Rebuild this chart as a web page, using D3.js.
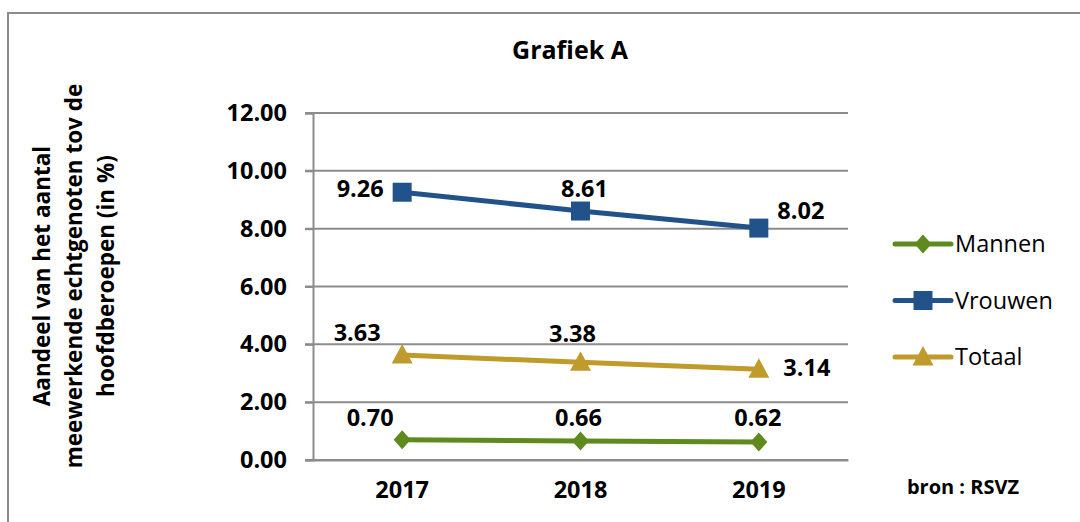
<!DOCTYPE html>
<html>
<head>
<meta charset="utf-8">
<script src="https://cdn.jsdelivr.net/npm/d3@7"></script>
<style>
  html, body { margin: 0; padding: 0; background: #fff; }
  svg { display: block; }
  text { font-family: "Open Sans", "Noto Sans", sans-serif; fill: #000; }
</style>
</head>
<body>
<svg id="chart" width="1080" height="522"></svg>
<script>
// ---- Data ----
const years = ["2017", "2018", "2019"];
const mannen = [0.70, 0.66, 0.62];
const vrouwen = [9.26, 8.61, 8.02];
const totaal = [3.63, 3.38, 3.14];
const yTicks = [0, 2, 4, 6, 8, 10, 12];
const seriesNames = ["Mannen", "Vrouwen", "Totaal"];
const titleText = "Grafiek A";
const yTitleLines = ["Aandeel van het aantal", "meewerkende echtgenoten tov de", "hoofdberoepen (in %)"];
const sourceText = "bron : RSVZ";

// ---- Styles / layout ----
const W = 1080, H = 522;
const plot = { left: 313, right: 848, top: 113, bottom: 460 };
const styles = {
  Mannen:  { color: "#5f8b1e", shape: "diamond",  labelOff: [[-32, -22], [-2, -23], [-1, -25]] },
  Vrouwen: { color: "#22528a", shape: "square",   labelOff: [[-42, -4], [4, -22], [42, -18]] },
  Totaal:  { color: "#bf9b2c", shape: "triangle", labelOff: [[-45, -22], [-8, -29], [48, -2]] }
};
const seriesData = { Mannen: mannen, Vrouwen: vrouwen, Totaal: totaal };

const svg = d3.select("#chart");

// outer frame (left & top visible, right/bottom cut off)
svg.append("rect")
  .attr("x", 8).attr("y", 13)
  .attr("width", W + 20).attr("height", H + 20)
  .attr("fill", "none").attr("stroke", "#8c8c8c").attr("stroke-width", 2);

const x = d3.scaleBand().domain(years).range([plot.left, plot.right]);
const y = d3.scaleLinear().domain([0, 12]).range([plot.bottom, plot.top]);
const cx = d => x(d) + x.bandwidth() / 2;

// gridlines
svg.append("g").selectAll("line").data(yTicks).join("line")
  .attr("x1", plot.left - 8).attr("x2", plot.right)
  .attr("y1", d => y(d)).attr("y2", d => y(d))
  .attr("stroke", "#8c8c8c").attr("stroke-width", 2);

// y axis
const yAxis = d3.axisLeft(y).tickValues(yTicks).tickFormat(d3.format(".2f")).tickSize(8).tickPadding(18);
const gy = svg.append("g").attr("transform", `translate(${plot.left},0)`).call(yAxis);
gy.select(".domain").attr("stroke", "#8c8c8c").attr("stroke-width", 2);
gy.selectAll(".tick line").attr("stroke", "#8c8c8c").attr("stroke-width", 2);
gy.selectAll(".tick text").attr("font-size", 23.5).attr("font-weight", "bold")
  .attr("font-family", "'Open Sans', sans-serif").attr("fill", "#000");

// x axis
const xAxis = d3.axisBottom(x).tickSize(0).tickPadding(21);
const gx = svg.append("g").attr("transform", `translate(0,${plot.bottom})`).call(xAxis);
gx.select(".domain").attr("stroke", "#8c8c8c").attr("stroke-width", 2);
gx.selectAll(".tick text").attr("font-size", 23.5).attr("font-weight", "bold")
  .attr("font-family", "'Open Sans', sans-serif").attr("fill", "#000");

// markers
function markerPath(shape) {
  if (shape === "diamond") return "M0,-9.5 L8.5,0 L0,9.5 L-8.5,0 Z";
  if (shape === "square") return "M-9.5,-9.5 L9.5,-9.5 L9.5,9.5 L-9.5,9.5 Z";
  return "M0,-11 L10.5,8.5 L-10.5,8.5 Z";
}

const line = d3.line().x((d, i) => cx(years[i])).y(d => y(d));

seriesNames.forEach(name => {
  const st = styles[name];
  const vals = seriesData[name];
  const g = svg.append("g");
  g.append("path").datum(vals).attr("d", line)
    .attr("fill", "none").attr("stroke", st.color).attr("stroke-width", 5);
  g.selectAll(".m").data(vals).join("path")
    .attr("d", markerPath(st.shape))
    .attr("transform", (d, i) => `translate(${cx(years[i])},${y(d)})`)
    .attr("fill", st.color);
  g.selectAll(".lbl").data(vals).join("text")
    .attr("x", (d, i) => cx(years[i]) + st.labelOff[i][0])
    .attr("y", (d, i) => y(d) + st.labelOff[i][1])
    .attr("dy", "0.36em")
    .attr("text-anchor", "middle")
    .attr("font-size", 23.5).attr("font-weight", "bold")
    .text(d => d3.format(".2f")(d));
});

// legend
const legend = svg.append("g");
seriesNames.forEach((name, i) => {
  const st = styles[name];
  const ly = 244 + i * 56.5;
  legend.append("line").attr("x1", 895).attr("x2", 951).attr("y1", ly).attr("y2", ly)
    .attr("stroke", st.color).attr("stroke-width", 5).attr("stroke-linecap", "round");
  legend.append("path").attr("d", markerPath(st.shape))
    .attr("transform", `translate(923,${ly})`).attr("fill", st.color);
  legend.append("text").attr("x", 955).attr("y", ly).attr("dy", "0.36em")
    .attr("font-size", 23.5).text(name);
});

// title
svg.append("text").attr("x", 570).attr("y", 50).attr("dy", "0.36em")
  .attr("text-anchor", "middle").attr("font-size", 25).attr("font-weight", "bold")
  .text(titleText);

// y title
const yt = svg.append("text").attr("transform", "translate(0,276) rotate(-90)")
  .attr("text-anchor", "middle").attr("font-size", 22.5).attr("font-weight", "bold");
const baselines = [50, 82, 114];
yTitleLines.forEach((t, i) => {
  yt.append("tspan").attr("x", 0).attr("y", baselines[i]).text(t);
});

// source
svg.append("text").attr("x", 963).attr("y", 487).attr("dy", "0.36em")
  .attr("text-anchor", "middle").attr("font-size", 20).attr("font-weight", "bold")
  .text(sourceText);
</script>
</body>
</html>
